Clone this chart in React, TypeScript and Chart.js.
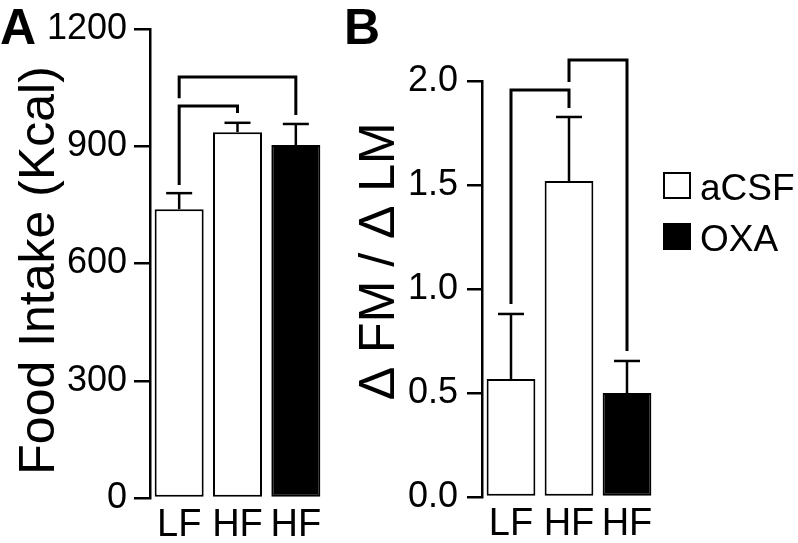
import React, { useEffect, useRef } from 'react';
import { Chart, registerables } from 'chart.js';

Chart.register(...registerables);

const categories = ['LF', 'HF', 'HF'];
const treatment = ['aCSF', 'aCSF', 'OXA'];
const treatmentGroups = ['aCSF', 'OXA'];
const groupFill: Record<string, string> = { aCSF: '#ffffff', OXA: '#000000' };

const foodIntake = [739, 936, 903];
const foodIntakeSem = [41, 24, 54];
const foodTicks = [0, 300, 600, 900, 1200];

const fatLeanRatio = [0.567, 1.519, 0.5];
const fatLeanSem = [0.313, 0.308, 0.154];
const ratioTicks = [0, 0.5, 1.0, 1.5, 2.0];

// significance brackets: [fromIndex, toIndex, bracketTop, fromLegEnd, toLegEnd] (value units)
const foodBrackets = [
  [0, 1, 1003, 801, 985],
  [0, 2, 1077, 1023, 980],
];
const ratioBrackets = [
  [0, 1, 1.957, 0.928, 1.87],
  [1, 2, 2.101, 1.995, 0.702],
];

const FONT = '"Liberation Sans", Arial, Helvetica, sans-serif';

function buildDatasets(values: number[]) {
  return treatmentGroups.map((g) => ({
    label: g,
    data: values.map((v, i) => (treatment[i] === g ? v : null)),
    backgroundColor: groupFill[g],
    borderColor: '#000000',
    borderWidth: 2,
    borderSkipped: false as const,
    grouped: false,
    barPercentage: 0.84,
    categoryPercentage: 1,
  }));
}

function overlayPlugin(letter: string, letterX: number, sems: number[], brackets: number[][], showLegend: boolean) {
  return {
    id: 'overlay' + letter,
    afterDatasetsDraw(chart: any) {
      const { ctx } = chart;
      const x = chart.scales.x;
      const y = chart.scales.y;
      ctx.save();
      ctx.strokeStyle = '#000';
      ctx.lineCap = 'butt';
      ctx.lineJoin = 'miter';
      // error bars (upper only)
      chart.data.datasets.forEach((ds: any, di: number) => {
        const meta = chart.getDatasetMeta(di);
        ds.data.forEach((v: number | null, i: number) => {
          if (v == null) return;
          const bar = meta.data[i];
          const top = y.getPixelForValue(v + sems[i]);
          ctx.lineWidth = 2.5;
          ctx.beginPath();
          ctx.moveTo(bar.x, bar.y);
          ctx.lineTo(bar.x, top);
          ctx.stroke();
          ctx.beginPath();
          ctx.moveTo(bar.x - 13, top);
          ctx.lineTo(bar.x + 13, top);
          ctx.stroke();
        });
      });
      // significance brackets
      ctx.lineWidth = 3;
      brackets.forEach(([a, b, top, aEnd, bEnd]) => {
        const xa = x.getPixelForValue(a);
        const xb = x.getPixelForValue(b);
        ctx.beginPath();
        ctx.moveTo(xa, y.getPixelForValue(aEnd));
        ctx.lineTo(xa, y.getPixelForValue(top));
        ctx.lineTo(xb, y.getPixelForValue(top));
        ctx.lineTo(xb, y.getPixelForValue(bEnd));
        ctx.stroke();
      });
      ctx.restore();
    },
    afterDraw(chart: any) {
      const { ctx } = chart;
      ctx.save();
      ctx.fillStyle = '#000';
      ctx.textBaseline = 'alphabetic';
      ctx.textAlign = 'left';
      ctx.font = `bold 50px ${FONT}`;
      ctx.fillText(letter, letterX, 44);
      if (showLegend) {
        const lx = chart.chartArea.right + 7;
        ctx.font = `37px ${FONT}`;
        chart.data.datasets.forEach((ds: any, i: number) => {
          const top = 172 + i * 51;
          ctx.fillStyle = ds.backgroundColor;
          ctx.fillRect(lx, top, 28, 27);
          ctx.strokeStyle = '#000';
          ctx.lineWidth = 2;
          ctx.strokeRect(lx + 1, top + 1, 26, 25);
          ctx.fillStyle = '#000';
          ctx.fillText(ds.label, lx + 37, top + 28);
        });
      }
      ctx.restore();
    },
  };
}

function makeConfig(opts: {
  values: number[];
  sems: number[];
  ticks: number[];
  fmt: (v: number) => string;
  title: string;
  axisWidth: number;
  xHeight: number;
  padTop: number;
  padRight: number;
  tickLength: number;
  tickPad: number;
  letter: string;
  letterX: number;
  brackets: number[][];
  legend: boolean;
}) {
  return {
    type: 'bar' as const,
    data: { labels: categories, datasets: buildDatasets(opts.values) },
    options: {
      responsive: false,
      animation: false as const,
      devicePixelRatio: 1,
      layout: { padding: { top: opts.padTop, right: opts.padRight, left: 0, bottom: 0 } },
      plugins: { legend: { display: false }, tooltip: { enabled: false } },
      scales: {
        x: {
          type: 'category' as const,
          grid: { display: false },
          border: { display: false },
          ticks: { font: { family: FONT, size: 38 }, color: '#000', padding: -3, maxRotation: 0, autoSkip: false },
          afterFit: (s: any) => {
            s.height = opts.xHeight;
          },
        },
        y: {
          min: opts.ticks[0],
          max: opts.ticks[opts.ticks.length - 1],
          afterBuildTicks: (s: any) => {
            s.ticks = opts.ticks.map((v) => ({ value: v }));
          },
          grid: { display: true, drawOnChartArea: false, drawTicks: true, tickLength: opts.tickLength, lineWidth: 2.5, color: '#000' },
          border: { display: true, width: 2.5, color: '#000' },
          ticks: { font: { family: FONT, size: 36 }, color: '#000', padding: opts.tickPad, callback: (v: any) => opts.fmt(Number(v)) },
          title: { display: true, text: opts.title, color: '#000', font: { family: FONT, size: 50 }, padding: { top: 10, bottom: 0 } },
          afterFit: (s: any) => {
            s.width = opts.axisWidth;
          },
        },
      },
    },
    plugins: [overlayPlugin(opts.letter, opts.letterX, opts.sems, opts.brackets, opts.legend)],
  };
}

export default function App() {
  const refA = useRef<HTMLCanvasElement>(null);
  const refB = useRef<HTMLCanvasElement>(null);

  useEffect(() => {
    const a = new Chart(
      refA.current!,
      makeConfig({
        values: foodIntake,
        sems: foodIntakeSem,
        ticks: foodTicks,
        fmt: (v) => String(v),
        title: 'Food Intake (Kcal) ',
        axisWidth: 150,
        xHeight: 45,
        padTop: 29,
        padRight: 15,
        tickLength: 16,
        tickPad: 7,
        letter: 'A',
        letterX: 0,
        brackets: foodBrackets,
        legend: false,
      }) as any
    );
    const b = new Chart(
      refB.current!,
      makeConfig({
        values: fatLeanRatio,
        sems: fatLeanSem,
        ticks: ratioTicks,
        fmt: (v) => v.toFixed(1),
        title: '    Δ FM / Δ LM',
        axisWidth: 142,
        xHeight: 46,
        padTop: 81,
        padRight: 142,
        tickLength: 15,
        tickPad: 9,
        letter: 'B',
        letterX: 4,
        brackets: ratioBrackets,
        legend: true,
      }) as any
    );
    return () => {
      a.destroy();
      b.destroy();
    };
  }, []);

  return (
    <div style={{ position: 'absolute', left: 0, top: 0, width: 798, height: 543, background: '#fff', overflow: 'hidden' }}>
      <canvas ref={refA} width={340} height={543} style={{ position: 'absolute', left: 0, top: 0, width: 340, height: 543 }} />
      <canvas ref={refB} width={458} height={543} style={{ position: 'absolute', left: 340, top: 0, width: 458, height: 543 }} />
    </div>
  );
}
